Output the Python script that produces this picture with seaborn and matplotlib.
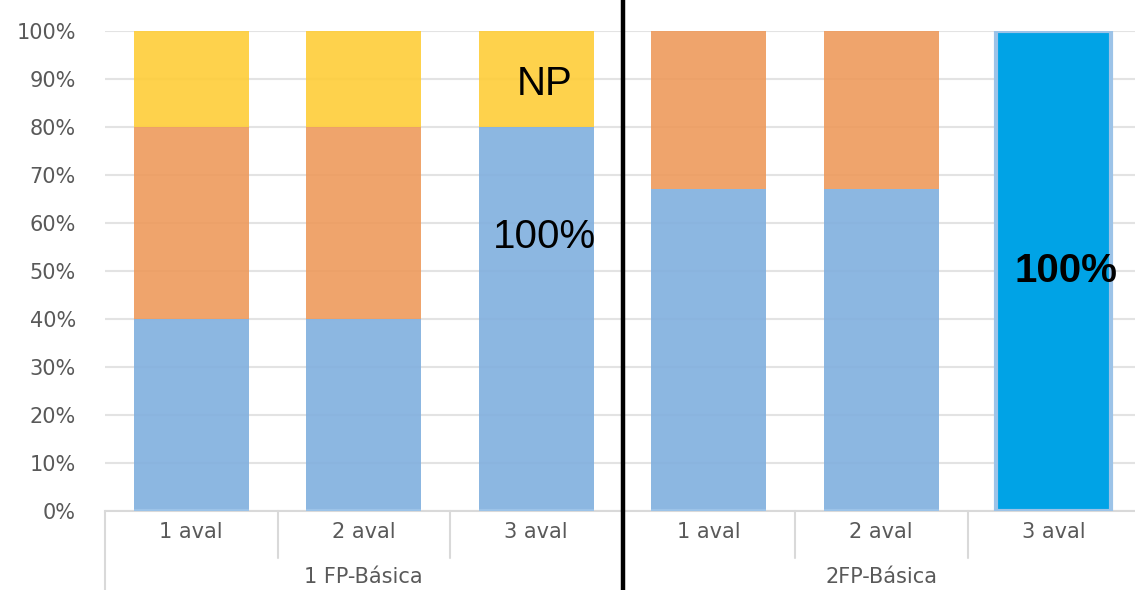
import numpy as np
import pandas as pd
import matplotlib
matplotlib.use("Agg")
import matplotlib.pyplot as plt
import matplotlib.transforms as mtransforms
import seaborn as sns

# data
groups = ["1 FP-Básica", "2FP-Básica"]
evals = ["1 aval", "2 aval", "3 aval"]
blue = [0.40, 0.40, 0.80, 0.67, 0.67, 1.00]
orange = [0.40, 0.40, 0.00, 0.33, 0.33, 0.00]
yellow = [0.20, 0.20, 0.20, 0.00, 0.00, 0.00]
highlight = [0.00, 0.00, 0.00, 0.00, 0.00, 1.00]
y_ticks = np.arange(0, 1.01, 0.1)

keys = [f"{g}|{e}" for g in groups for e in evals]
df = pd.DataFrame({"key": keys, "blue": blue, "orange": orange,
                   "yellow": yellow, "highlight": highlight})
df["b2"] = df["blue"] + df["orange"]

sns.set_style("white")
plt.rcParams["font.family"] = ["DejaVu Sans"]

fig = plt.figure(figsize=(11.35, 5.90), dpi=100)
ax = fig.add_axes([105 / 1135, 79 / 590, 1035 / 1135, 480 / 590])

w = 0.667
common = dict(order=keys, width=w, errorbar=None, ax=ax, saturation=1)
sns.barplot(data=df, x="key", y="blue", color="#80AFDE", alpha=0.9,
            linewidth=0, zorder=2, **common)
sns.barplot(data=df, x="key", y="orange", color="#EE9A5C", alpha=0.9,
            linewidth=0, bottom=df["blue"], zorder=2, **common)
sns.barplot(data=df, x="key", y="yellow", color="#FECD38", alpha=0.9,
            linewidth=0, bottom=df["b2"], zorder=2, **common)
sns.barplot(data=df, x="key", y="highlight", color="#00A3E6",
            edgecolor="#9CC3E8", linewidth=3, zorder=3, **common)

ax.set_xlim(-0.5, 5.5)
ax.set_ylim(0, 1.0)
ax.set_yticks(y_ticks)
ax.set_yticklabels([f"{int(round(t * 100))}%" for t in y_ticks])
ax.yaxis.grid(True, color="#E3E3E3", linewidth=1.5, zorder=0)
ax.set_axisbelow(True)
ax.set_xticks(range(len(keys)))
ax.set_xticklabels(evals * 2)
ax.tick_params(axis="y", length=0, pad=21, labelsize=15, labelcolor="#595959")
ax.tick_params(axis="x", length=0, pad=8, labelsize=15, labelcolor="#595959")
ax.set_xlabel("")
ax.set_ylabel("")
for s in ["top", "right", "left"]:
    ax.spines[s].set_visible(False)
ax.spines["bottom"].set_color("#D9D9D9")
ax.spines["bottom"].set_linewidth(1.5)

# category separators below the axis
for xs in [0.5, 1.5, 3.5, 4.5]:
    ax.axvline(xs, ymin=-0.098, ymax=0, color="#D9D9D9", lw=1.5, clip_on=False)
ax.axvline(-0.5, ymin=-0.17, ymax=0, color="#D9D9D9", lw=1.5, clip_on=False)

# group labels
trans = mtransforms.blended_transform_factory(ax.transData, ax.transAxes)
for i, g in enumerate(groups):
    ax.text(1 + 3 * i, -0.1375, g, transform=trans, ha="center", va="center",
            fontsize=15, color="#595959")

# thick divider between groups
ax.axvline(2.5, ymin=-0.17, ymax=1.07, color="black", lw=3.2, clip_on=False, zorder=5)

# annotations
ann = ["Liberation Sans", "DejaVu Sans"]
ax.text(2.05, 0.89, "NP", ha="center", va="center", fontsize=29, family=ann,
        color="black", zorder=6)
ax.text(2.05, 0.57, "100%", ha="center", va="center", fontsize=29, family=ann,
        color="black", zorder=6)
ax.text(5.07, 0.50, "100%", ha="center", va="center", fontsize=29,
        fontweight="bold", family=ann, color="black", zorder=6)

fig.savefig("out.png", dpi=100)
